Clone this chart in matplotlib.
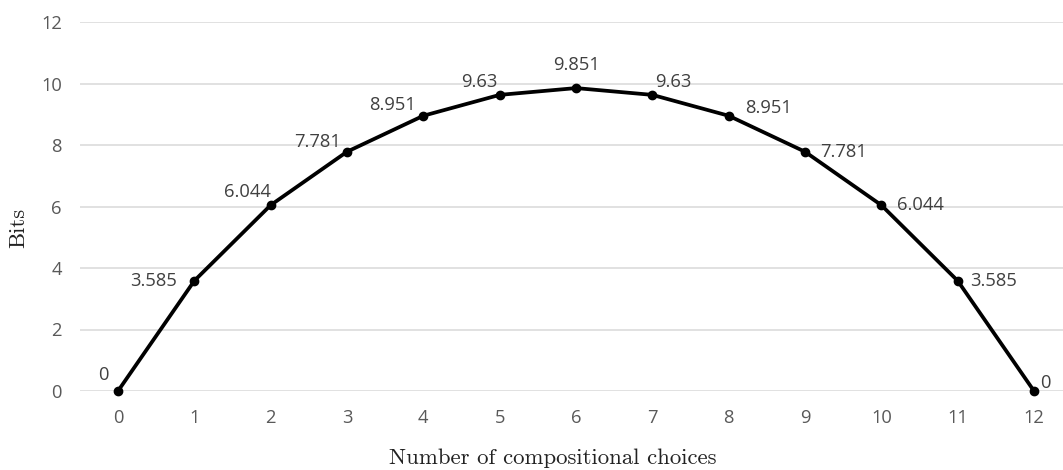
import matplotlib
matplotlib.use("Agg")
import matplotlib.pyplot as plt

# Number of compositional choices and the information content in bits
choices = [0, 1, 2, 3, 4, 5, 6, 7, 8, 9, 10, 11, 12]
bits = [0, 3.585, 6.044, 7.781, 8.951, 9.63, 9.851, 9.63, 8.951, 7.781, 6.044, 3.585, 0]
value_labels = ["0", "3.585", "6.044", "7.781", "8.951", "9.63", "9.851",
                "9.63", "8.951", "7.781", "6.044", "3.585", "0"]
y_ticks = [0, 2, 4, 6, 8, 10, 12]

# label placement around each point: (dx px, dy px, horizontal alignment)
label_pos = [(-15, 16, "center"), (-17, 0, "right"), (0, 13, "right"),
             (-6, 10, "right"), (-7, 11, "right"), (-2, 13, "right"),
             (0, 23, "center"), (3, 13, "left"), (16, 8, "left"),
             (15, 0, "left"), (16, 0, "left"), (12, 0, "left"), (6, 8, "left")]

W, H, DPI = 1063, 470, 100
fig = plt.figure(figsize=(W / DPI, H / DPI), dpi=DPI)
left_px, right_px, top_px, bottom_px = 80, 1063, 22, 391
ax = fig.add_axes([left_px / W, 1 - bottom_px / H,
                   (right_px - left_px) / W, (bottom_px - top_px) / H])

tick_color = "#595959"
tick_font = "Open Sans"
fs = 13.2

ax.plot(choices, bits, color="black", lw=2.7, marker="o", ms=6,
        solid_joinstyle="round", zorder=3, clip_on=False)

for x, y, lab, (dx, dy, ha) in zip(choices, bits, value_labels, label_pos):
    ax.annotate(lab, (x, y), xytext=(dx, dy), textcoords="offset pixels",
                ha=ha, va="center", fontsize=fs, color="#404040",
                family=tick_font, zorder=4)

ax.set_xlim(-0.498, 12.38)
ax.set_ylim(0, 12)
ax.set_xticks(choices)
ax.set_yticks(y_ticks)
ax.set_xticklabels([str(c) for c in choices], family=tick_font, fontsize=fs, color=tick_color)
ax.set_yticklabels([str(t) for t in y_ticks], family=tick_font, fontsize=fs, color=tick_color)
ax.tick_params(length=0)
ax.tick_params(axis="x", pad=13)
ax.tick_params(axis="y", pad=13)
ax.grid(axis="y", color="#d9d9d9", lw=1.1)
ax.set_axisbelow(True)
for s in ax.spines.values():
    s.set_visible(False)

fig.text(553 / W, 1 - 458 / H, "Number of compositional choices",
         family="cmr10", fontsize=16.4, ha="center", va="center", color="#222222")
fig.text(18 / W, 1 - 228 / H, "Bits", family="cmr10", fontsize=16.4,
         rotation=90, ha="center", va="center", color="#222222")

fig.savefig("out.png", dpi=DPI)
